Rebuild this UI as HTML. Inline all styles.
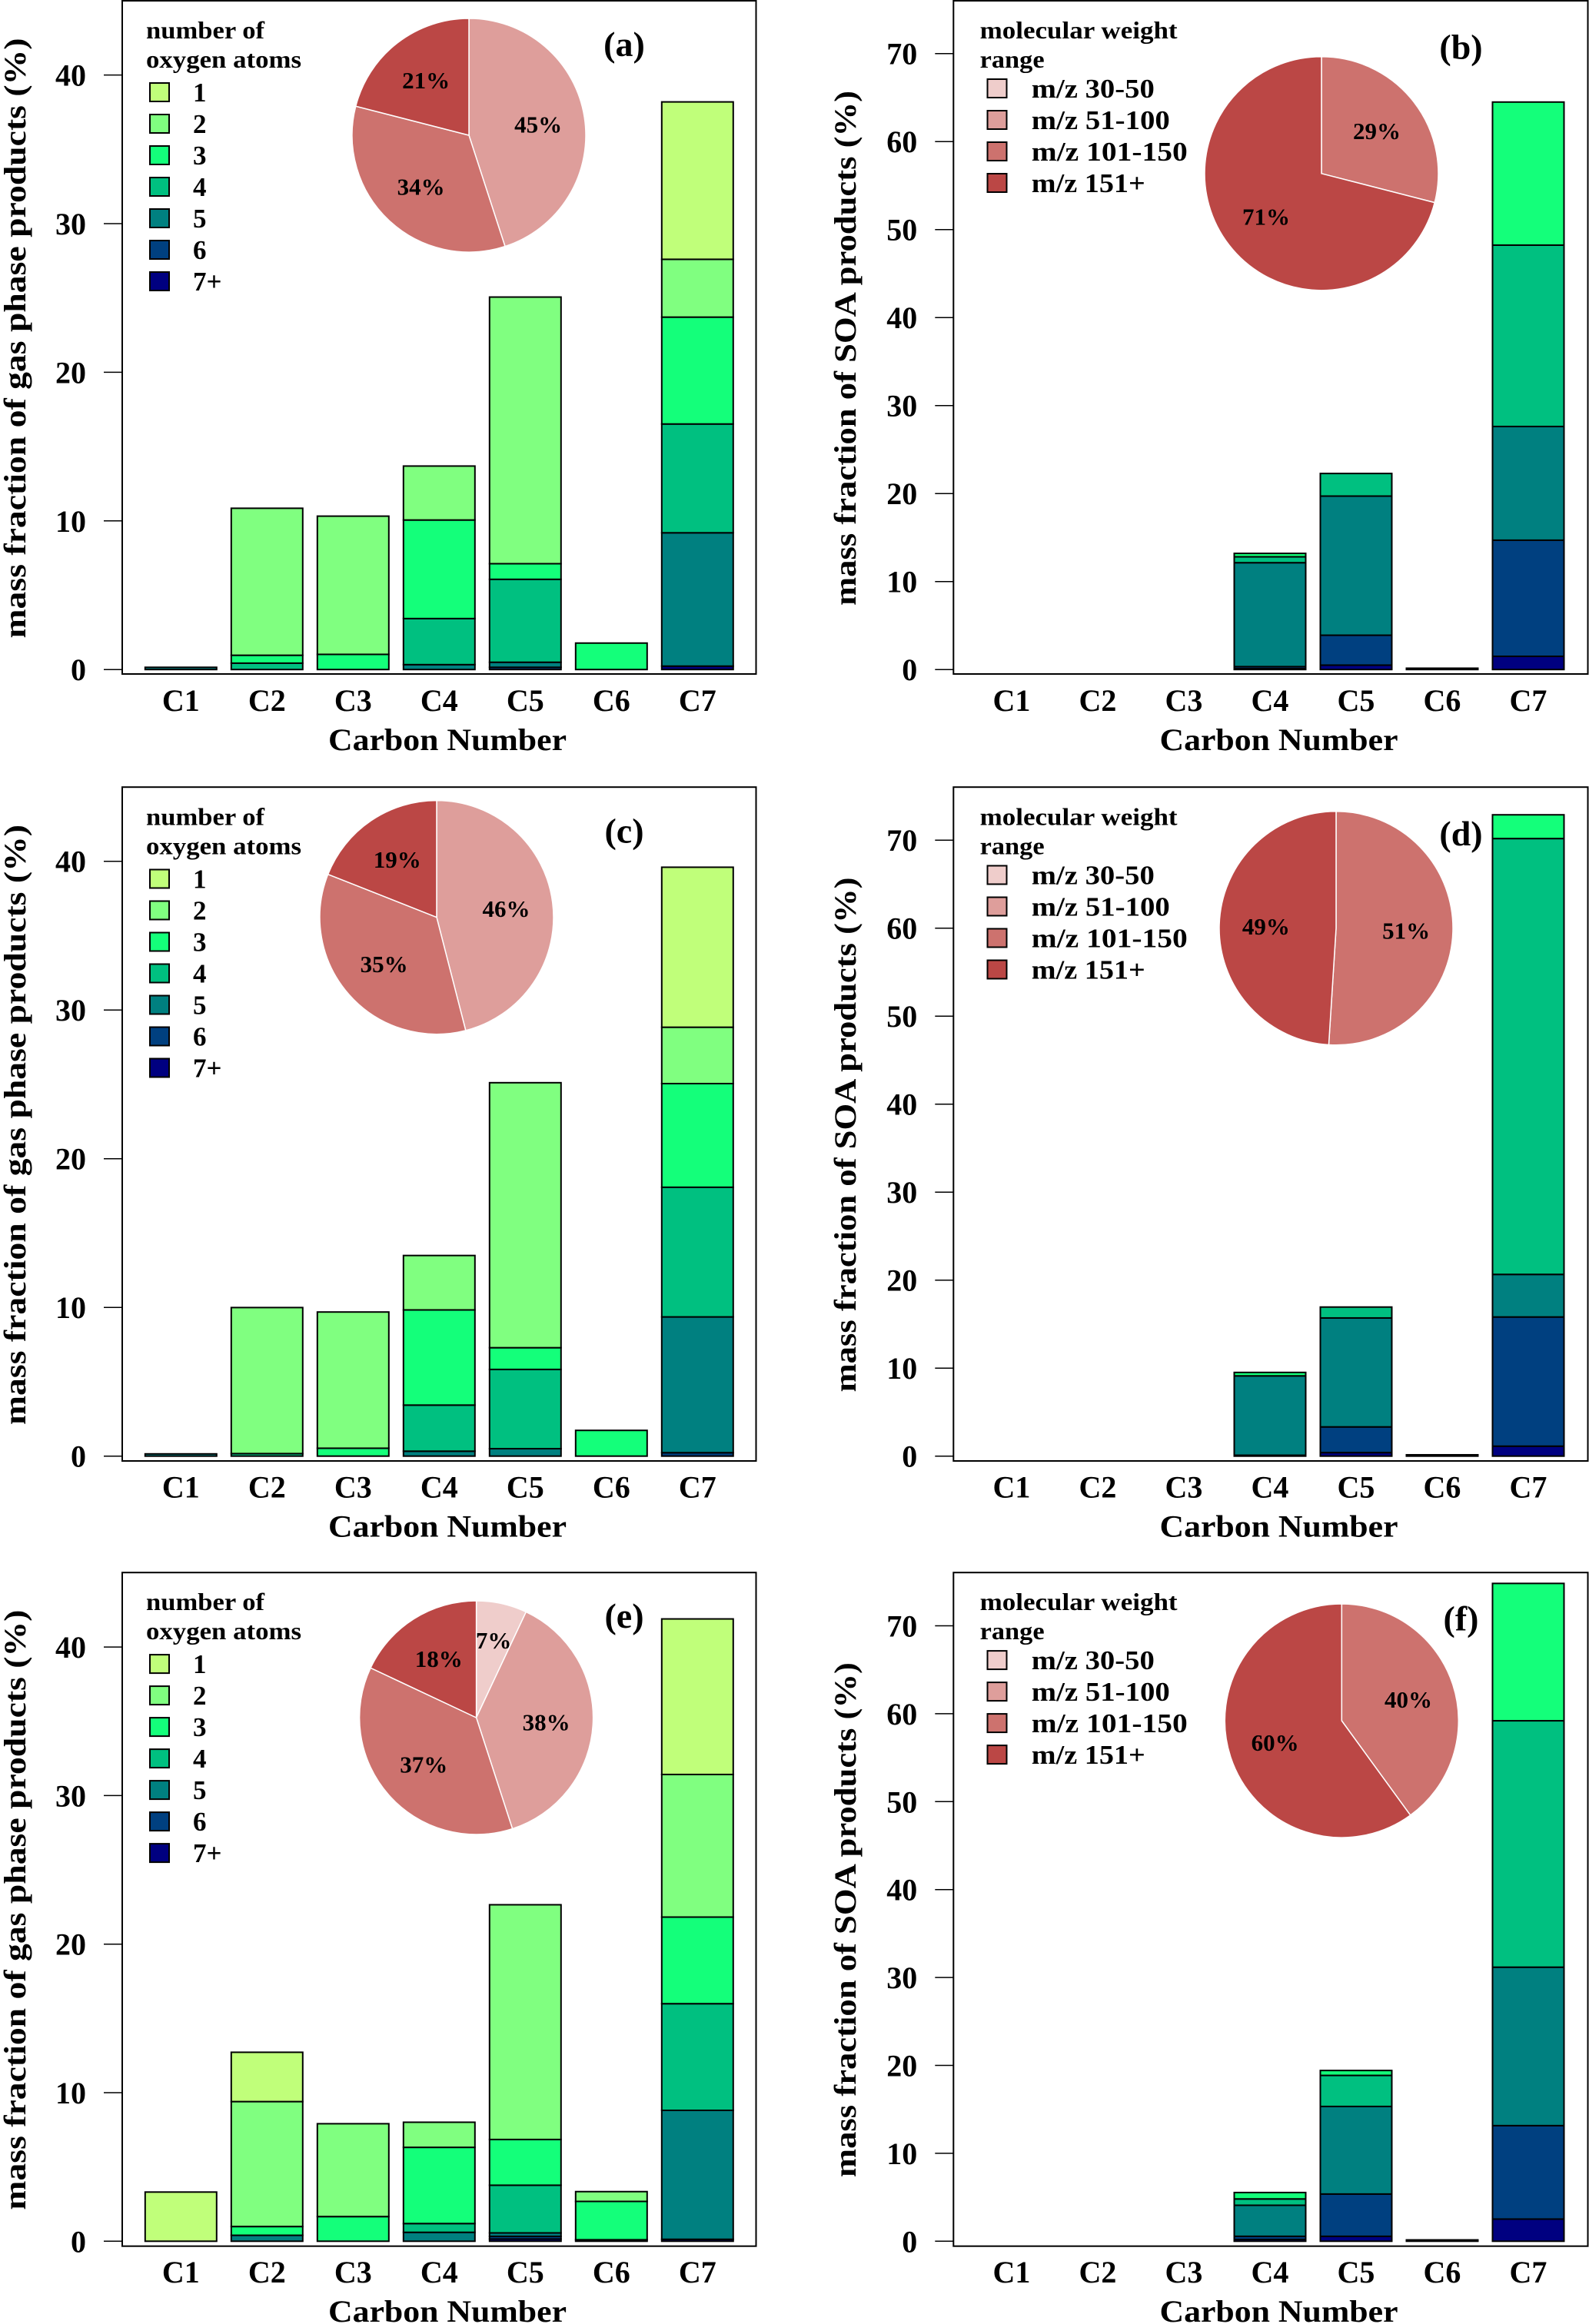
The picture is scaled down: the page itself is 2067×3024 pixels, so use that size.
<!DOCTYPE html>
<html><head><meta charset="utf-8"><title>Mass fraction charts</title>
<style>
html,body{margin:0;padding:0;background:#fff;}
svg{display:block;font-family:"Liberation Serif",serif;font-weight:bold;}
</style></head>
<body>
<svg id="chart" width="2067" height="3024" viewBox="0 0 2067 3024" xmlns="http://www.w3.org/2000/svg"></svg>
<script>
const categories = ["C1","C2","C3","C4","C5","C6","C7"];
const oxygenSeries = ["1","2","3","4","5","6","7+"];
const mzSeries = ["m/z 30-50","m/z 51-100","m/z 101-150","m/z 151+"];
const yTicksGas = [0,10,20,30,40];
const yTicksSoa = [0,10,20,30,40,50,60,70];
// stacks per category: [1,2,3,4,5,6,7+]
const panelA = [[0,0,0,0,0.15,0,0],[0,9.89,0.53,0.43,0,0,0],[0,9.3,1.02,0,0,0,0],[0,3.63,6.63,3.1,0.33,0,0],[0,17.94,1.05,5.58,0.34,0.15,0],[0,0,1.78,0,0,0,0],[10.59,3.89,7.19,7.32,8.97,0,0.23]];
const panelB = [[0,0,0,0,0,0,0],[0,0,0,0,0,0,0],[0,0,0,0,0,0,0],[0,0,0.39,0.67,11.81,0.23,0.1],[0,0,0,2.57,15.81,3.4,0.5],[0,0,0,0,0.15,0,0],[0,0,16.26,20.61,12.92,13.2,1.5]];
const panelC = [[0,0,0,0,0.15,0,0],[0,9.82,0,0.17,0,0,0],[0,9.16,0.53,0,0,0,0],[0,3.66,6.4,3.1,0.33,0,0],[0,17.82,1.46,5.33,0.5,0,0],[0,0,1.73,0,0,0,0],[10.76,3.79,6.97,8.72,9.13,0.23,0]];
const panelD = [[0,0,0,0,0,0,0],[0,0,0,0,0,0,0],[0,0,0,0,0,0,0],[0,0,0.39,0,9.02,0.1,0],[0,0,0,1.24,12.38,2.92,0.4],[0,0,0,0,0.15,0,0],[0,0,2.7,49.53,4.84,14.68,1.13]];
const panelE = [[3.31,0,0,0,0,0,0],[3.32,8.41,0.59,0,0.4,0,0],[0,6.25,1.66,0,0,0,0],[0,1.69,5.13,0.59,0.6,0,0],[0,15.8,3.08,3.21,0.23,0.18,0.15],[0,0.66,2.58,0.1,0,0,0],[10.47,9.6,5.83,7.18,8.68,0,0.13]];
const panelF = [[0,0,0,0,0,0,0],[0,0,0,0,0,0,0],[0,0,0,0,0,0,0],[0,0,0.73,0.72,3.53,0.36,0.2],[0,0,0.56,3.53,9.96,4.81,0.56],[0,0,0,0,0.15,0,0],[0,0,15.62,28.03,18.02,10.63,2.52]];
// pie shares per m/z class [30-50, 51-100, 101-150, 151+]
const pieA = [0,45,34,21];
const pieB = [0,0,29,71];
const pieC = [0,46,35,19];
const pieD = [0,0,51,49];
const pieE = [7,38,37,18];
const pieF = [0,0,40,60];

const barColors = ["#c0ff7a","#80ff80","#14ff7a","#00c080","#008080","#004080","#000080"];
const pieColors = ["#efcdcb","#de9e9b","#cd726e","#bb4745"];
const NS="http://www.w3.org/2000/svg";
const svg=document.getElementById('chart');
function mk(tag,attrs,parent,text){const e=document.createElementNS(NS,tag);for(const k in attrs)e.setAttribute(k,attrs[k]);if(text!==undefined)e.textContent=text;(parent||svg).appendChild(e);return e;}

const panels=[
 {id:"a",kind:"gas",data:panelA,pie:pieA,left:159,right:983.5,top:1,bottom:877,y0:871.2,per10:193.4,c1:235.3,pcx:610,pcy:176},
 {id:"b",kind:"soa",data:panelB,pie:pieB,left:1240.3,right:2065.5,top:1,bottom:877,y0:871.2,per10:114.5,c1:1316,pcx:1719,pcy:225.8},
 {id:"c",kind:"gas",data:panelC,pie:pieC,left:159,right:983.5,top:1024.2,bottom:1901,y0:1894.7,per10:193.5,c1:235.3,pcx:568,pcy:1193.6},
 {id:"d",kind:"soa",data:panelD,pie:pieD,left:1240.3,right:2065.5,top:1024.2,bottom:1901,y0:1894.7,per10:114.5,c1:1316,pcx:1738,pcy:1207.8},
 {id:"e",kind:"gas",data:panelE,pie:pieE,left:159,right:983.5,top:2046.2,bottom:2922.7,y0:2916.3,per10:193.3,c1:235.3,pcx:619.6,pcy:2235},
 {id:"f",kind:"soa",data:panelF,pie:pieF,left:1240.3,right:2065.5,top:2046.2,bottom:2922.7,y0:2916.3,per10:114.4,c1:1316,pcx:1745.3,pcy:2239}
];

panels.forEach(p=>{
  const g=mk('g',{});
  
  
  const dy=p.y0-871.2;
  const gas=p.kind==="gas";
  const yScale=v=>p.y0-v*p.per10/10;
  const xScale=i=>p.c1+i*112;
  const frame=mk('rect',{x:p.left,y:p.top,width:p.right-p.left,height:p.bottom-p.top,fill:"none",stroke:"#000","stroke-width":2},g);
  
  
  const ticks=gas?yTicksGas:yTicksSoa;
  ticks.forEach(t=>{
    const y=yScale(t);
    const tl=mk('line',{x1:p.left-24,x2:p.left,y1:y,y2:y,stroke:"#000","stroke-width":1.5},g);
    
    
    const tx=mk('text',{x:p.left-47,y:y+14,"text-anchor":"end","font-size":40},g,String(t));
    
    
  });
  const ytx = gas?20:1100;
  const ycy = gas?440+dy:453+dy;
  const ylen = gas?781:670;
  const yt=mk('text',{x:0,y:0,transform:`translate(${ytx+13},${ycy}) rotate(-90)`,"text-anchor":"middle","font-size":40,textLength:ylen,lengthAdjust:"spacingAndGlyphs"},g,gas?"mass fraction of gas phase products (%)":"mass fraction of SOA products (%)");
  
  
  categories.forEach((c,i)=>{
    const t=mk('text',{x:xScale(i),y:925+dy,"text-anchor":"middle","font-size":40},g,c);
    
    
  });
  const xt=mk('text',{x:gas?582:1663.5,y:976+dy,"text-anchor":"middle","font-size":40,textLength:310,lengthAdjust:"spacingAndGlyphs"},g,"Carbon Number");
  
  
  p.data.forEach((stack,i)=>{
    let base=0;
    for(let s=6;s>=0;s--){
      const v=stack[s]; if(v<=0) continue;
      const r=mk('rect',{x:xScale(i)-46.5,y:yScale(base+v),width:93,height:yScale(base)-yScale(base+v),fill:barColors[s],stroke:"#000","stroke-width":2},g);
      
      
      base+=v;
    }
  });
  // legend
  const lx = gas?190:1274.6;
  const t1=mk('text',{x:lx,y:50+dy,"font-size":32,textLength:gas?154:257,lengthAdjust:"spacingAndGlyphs"},g,gas?"number of":"molecular weight");
  
  
  const t2=mk('text',{x:lx,y:88+dy,"font-size":32,textLength:gas?202:84,lengthAdjust:"spacingAndGlyphs"},g,gas?"oxygen atoms":"range");
  
  
  const names = gas?oxygenSeries:mzSeries;
  const cols = gas?barColors:pieColors;
  const sx = gas?195:1284.5, labx = gas?251:1341.8, r0 = gas?120:115;
  names.forEach((n,k)=>{
    const cy=r0+k*41+dy;
    const sw=mk('rect',{x:sx,y:cy-12,width:25,height:24,fill:cols[k],stroke:"#000","stroke-width":2},g);
    
    
    const attrs={x:labx,y:cy+12,"font-size":35};
    if(!gas){attrs.textLength=[160,180,203,148][k];attrs.lengthAdjust="spacingAndGlyphs";}
    const lt=mk('text',attrs,g,n);
    
    
  });
  const pl=mk('text',{x:gas?812:1900.5,y:(gas?73:76.5)+dy,"text-anchor":"middle","font-size":46},g,"("+p.id+")");
  
  
  // pie
  const R=152; let acc=0;
  const total=p.pie.reduce((a,b)=>a+b,0);
  p.pie.forEach((v,k)=>{
    if(v<=0) return;
    const a0=acc/total*2*Math.PI, a1=(acc+v)/total*2*Math.PI;
    const pt=a=>[p.pcx+R*Math.sin(a),p.pcy-R*Math.cos(a)];
    const [x0,y0]=pt(a0),[x1,y1]=pt(a1);
    const large=(a1-a0)>Math.PI?1:0;
    const path=mk('path',{d:`M${p.pcx},${p.pcy} L${x0},${y0} A${R},${R} 0 ${large} 1 ${x1},${y1} Z`,fill:pieColors[k],stroke:"#fff","stroke-width":1.5},g);
    
    
    const am=(a0+a1)/2, rr=v<10?0.68:0.6;
    const lab=mk('text',{x:p.pcx+R*rr*Math.sin(am),y:p.pcy-R*rr*Math.cos(am)+11,"text-anchor":"middle","font-size":31},g,v+"%");
    
    
    acc+=v;
  });
});
</script>
</body></html>
